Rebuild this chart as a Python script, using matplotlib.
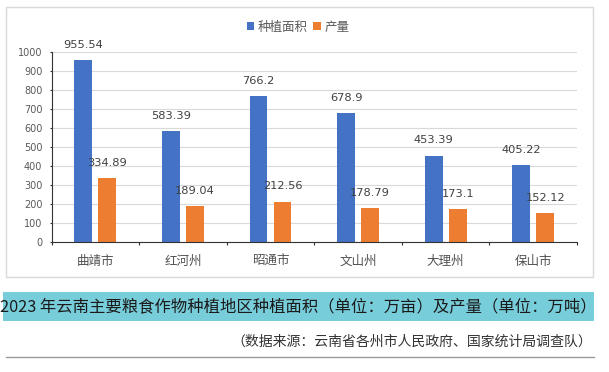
import matplotlib
matplotlib.use("Agg")
import matplotlib.pyplot as plt
from matplotlib.patches import Rectangle
from matplotlib.lines import Line2D
import numpy as np

categories = ["曲靖市", "红河州", "昭通市", "文山州", "大理州", "保山市"]
area = [955.54, 583.39, 766.2, 678.9, 453.39, 405.22]
output = [334.89, 189.04, 212.56, 178.79, 173.1, 152.12]
series_names = ["种植面积", "产量"]
yticks = [0, 100, 200, 300, 400, 500, 600, 700, 800, 900, 1000]
title = "2023 年云南主要粮食作物种植地区种植面积（单位：万亩）及产量（单位：万吨）"
source = "（数据来源：云南省各州市人民政府、国家统计局调查队）"

CJK = ["Noto Sans CJK SC", "DejaVu Sans"]
W, H = 609, 372
fig = plt.figure(figsize=(W / 100, H / 100), dpi=100)
fig.patch.set_facecolor("white")

def fx(px):
    return px / W

def fy(py):
    return 1 - py / H

# outer chart box
fig.patches.append(Rectangle((fx(6), fy(276.5)), fx(593) - fx(6), fy(7) - fy(276.5),
                             transform=fig.transFigure, facecolor="white",
                             edgecolor="#d9d9d9", lw=1.0, zorder=-5))

ax = fig.add_axes([fx(51.6), fy(242), fx(577) - fx(51.6), fy(52) - fy(242)])
ax.set_facecolor("none")
ax.set_zorder(2)
x = np.arange(len(categories))
bw = 0.205
off = 0.137
b1 = ax.bar(x - off, area, bw, color="#4472C4", label=series_names[0], zorder=3)
b2 = ax.bar(x + off, output, bw, color="#ED7D31", label=series_names[1], zorder=3)

for xi, v in zip(x - off, area):
    ax.annotate(f"{v:g}", (xi, v), xytext=(0, 11.1), textcoords="offset points",
                ha="center", va="center", fontsize=8.2, color="#404040",
                family="DejaVu Sans")
for xi, v in zip(x + off, output):
    ax.annotate(f"{v:g}", (xi, v), xytext=(0, 11.1), textcoords="offset points",
                ha="center", va="center", fontsize=8.2, color="#404040",
                family="DejaVu Sans")

ax.set_xlim(-0.5, len(categories) - 0.5)
ax.set_ylim(0, 1000)
ax.set_yticks(yticks)
ax.set_yticklabels([str(t) for t in yticks], fontsize=7, color="#595959",
                   family="DejaVu Sans")
ax.set_xticks(x)
ax.set_xticklabels(categories, fontsize=9, color="#505050", family=CJK)
ax.set_xticks(np.arange(-0.5, len(categories), 1.0), minor=True)
ax.tick_params(axis="x", which="major", length=0, pad=9)
ax.tick_params(axis="x", which="minor", length=2.2, width=0.8, color="#333333",
               direction="out")
ax.tick_params(axis="y", length=1.6, width=0.8, color="#333333", pad=5)
ax.grid(axis="y", color="#d9d9d9", lw=0.8, zorder=0)
ax.set_axisbelow(True)
for s in ["top", "right"]:
    ax.spines[s].set_visible(False)
for s in ["left", "bottom"]:
    ax.spines[s].set_color("#333333")
    ax.spines[s].set_linewidth(0.8)
    ax.spines[s].set_zorder(4)

leg = fig.legend(handles=[b1, b2], labels=series_names, loc="center",
                 bbox_to_anchor=(fx(298), fy(27)), ncol=2, frameon=False,
                 prop={"family": CJK, "size": 9}, labelcolor="#595959",
                 handlelength=0.6, handleheight=0.6, handletextpad=0.3,
                 columnspacing=0.4, borderpad=0)
leg.set_zorder(3)

# title band
fig.patches.append(Rectangle((fx(3), fy(321)), fx(594) - fx(3), fy(292) - fy(321),
                             transform=fig.transFigure, facecolor="#78CDDA",
                             edgecolor="none", zorder=-5))
fig.text(fx(298), fy(306.5), title, ha="center", va="center", fontsize=11.75,
         family=CJK, color="#1a1a1a", fontweight="medium")
fig.text(fx(592), fy(342), source, ha="right", va="center", fontsize=10,
         family=CJK, color="#333333")
fig.lines.append(Line2D([fx(6), fx(594)], [fy(356.5), fy(356.5)],
                        transform=fig.transFigure, color="#9a9a9a", lw=1.0))

fig.savefig("out.png", dpi=100, facecolor="white")
